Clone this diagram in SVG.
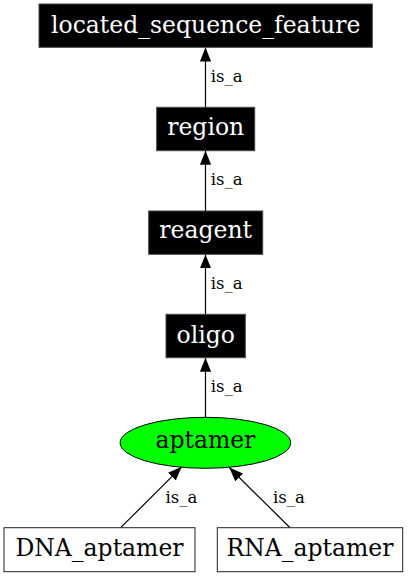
<svg xmlns="http://www.w3.org/2000/svg" width="410" height="576" viewBox="0 0 410 576">
<style>
.blk{fill:#000;stroke:#444;stroke-width:1}
.wht{fill:#fff;stroke:#222;stroke-width:1}
.nt{font-family:"DejaVu Serif",serif;font-size:23.5px;text-anchor:middle}
.w{fill:#fff}
.k{fill:#000}
.el{font-family:"DejaVu Serif",serif;font-size:16.5px;fill:#000}
.edge{stroke:#000;stroke-width:1.2;fill:none;marker-end:url(#arr)}
</style>
<defs>
<marker id="arr" markerUnits="userSpaceOnUse" markerWidth="14" markerHeight="12" viewBox="0 0 12.5 10" refX="12.5" refY="5" orient="auto">
<polygon points="0,0 12.5,5 0,10" fill="#000"/>
</marker>
</defs>
<rect width="410" height="576" fill="#fff"/>
<g id="edges">
<line class="edge" x1="205.5" y1="107.3" x2="205.5" y2="47.5"/>
<line class="edge" x1="205.5" y1="211" x2="205.5" y2="150.8"/>
<line class="edge" x1="205.5" y1="314.3" x2="205.5" y2="254.4"/>
<line class="edge" x1="205.5" y1="417.3" x2="205.5" y2="357.8"/>
<line class="edge" x1="120.7" y1="527.7" x2="181.7" y2="466.8"/>
<line class="edge" x1="290" y1="527.7" x2="229.3" y2="467.6"/>
<text class="el" x="210.7" y="82">is_a</text>
<text class="el" x="210.7" y="185.3">is_a</text>
<text class="el" x="210.7" y="288.5">is_a</text>
<text class="el" x="210.7" y="391.8">is_a</text>
<text class="el" x="165.5" y="503">is_a</text>
<text class="el" x="273" y="503">is_a</text>
</g>
<g id="located_sequence_feature">
<rect class="blk" x="39" y="4" width="333.3" height="43.3"/>
<text class="nt w" x="205.7" y="32.5">located_sequence_feature</text>
</g>
<g id="region">
<rect class="blk" x="156.7" y="107.3" width="98" height="43.4"/>
<text class="nt w" x="205.7" y="134.5">region</text>
</g>
<g id="reagent">
<rect class="blk" x="148.7" y="211" width="114" height="43.3"/>
<text class="nt w" x="205.7" y="238.3">reagent</text>
</g>
<g id="oligo">
<rect class="blk" x="166" y="314.3" width="79.3" height="43.4"/>
<text class="nt w" x="205.7" y="342.7">oligo</text>
</g>
<g id="aptamer">
<ellipse cx="205.4" cy="442.8" rx="85.3" ry="25.5" fill="#00ff00" stroke="#000" stroke-width="1"/>
<text class="nt k" x="205.4" y="448.3">aptamer</text>
</g>
<g id="DNA_aptamer">
<rect class="wht" x="4" y="527.7" width="191" height="44"/>
<text class="nt k" x="99.5" y="556">DNA_aptamer</text>
</g>
<g id="RNA_aptamer">
<rect class="wht" x="217.3" y="527.7" width="185.4" height="44"/>
<text class="nt k" x="310" y="556">RNA_aptamer</text>
</g>
</svg>
